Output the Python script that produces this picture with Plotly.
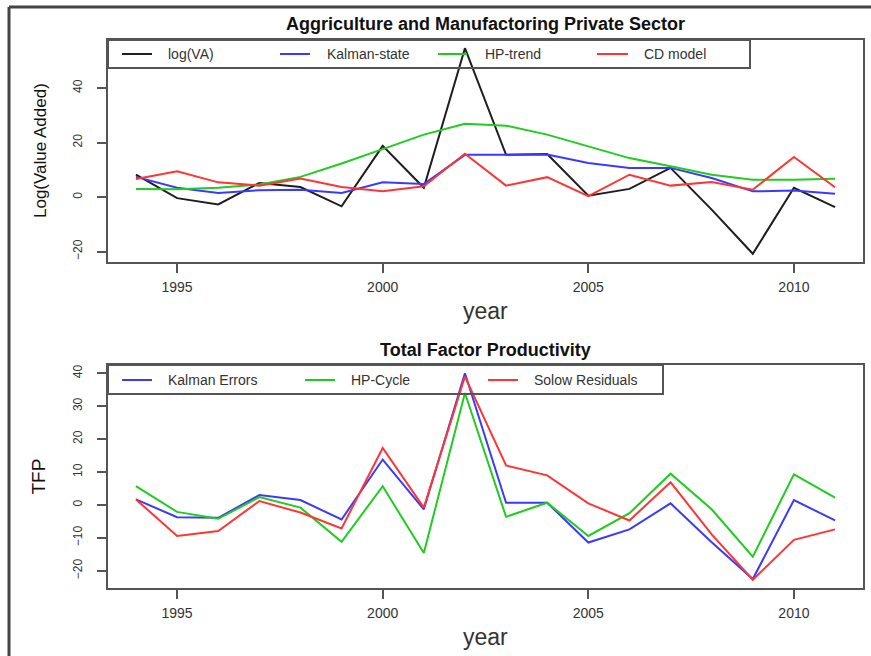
import plotly.graph_objects as go

# ---------------- data ----------------
years = list(range(1994, 2012))

log_va = [8.2, -0.4, -2.7, 5.2, 3.7, -3.4, 18.8, 3.4, 54.6, 15.5, 15.8, 0.5, 3.0, 10.7, -4.6, -20.8, 3.4, -3.7]
kalman_state = [7.4, 3.4, 1.5, 2.5, 2.7, 1.5, 5.4, 4.8, 15.5, 15.5, 15.6, 12.5, 10.7, 10.7, 7.0, 2.1, 2.4, 1.2]
hp_trend = [3.0, 2.9, 3.4, 4.6, 7.4, 12.3, 17.6, 22.9, 26.9, 26.2, 22.9, 18.6, 14.3, 11.3, 8.2, 6.4, 6.4, 6.7]
cd_model = [6.6, 9.5, 5.4, 4.2, 6.8, 3.7, 2.1, 4.0, 15.9, 4.2, 7.3, 0.3, 8.2, 4.2, 5.5, 2.7, 14.7, 3.6]

kalman_errors = [1.7, -3.7, -3.9, 3.0, 1.5, -4.4, 13.8, -1.3, 40.0, 0.7, 0.7, -11.4, -7.4, 0.5, -11.3, -22.5, 1.5, -4.7]
hp_cycle = [5.7, -2.1, -4.2, 2.4, -0.8, -11.2, 5.7, -14.6, 34.0, -3.6, 0.7, -9.4, -2.5, 9.5, -1.3, -15.7, 9.3, 2.2]
solow_residuals = [1.7, -9.4, -7.9, 1.2, -2.3, -7.1, 17.3, -0.8, 39.0, 12.0, 9.0, 0.5, -4.7, 6.9, -8.9, -22.7, -10.6, -7.4]

x_ticks = [1995, 2000, 2005, 2010]
top_y_ticks = [-20, 0, 20, 40]
bottom_y_ticks = [-20, -10, 0, 10, 20, 30, 40]

top_names = ["log(VA)", "Kalman-state", "HP-trend", "CD model"]
bottom_names = ["Kalman Errors", "HP-Cycle", "Solow Residuals"]
top_title = "Aggriculture and Manufactoring Private Sector"
bottom_title = "Total Factor Productivity"

# ---------------- style ----------------
W, H = 871, 656
BLACK = "#1e1e1e"
BLUE = "#3a3aff"
GREEN = "#1fcc1f"
RED = "#ff3535"
AXC = "#555555"
TXT = "#333333"
FONT = "Liberation Sans, Arial, sans-serif"


def px(x):
    return x / W


def py(y):
    return 1 - y / H


def rrange(vals, pad=0.04):
    lo, hi = min(vals), max(vals)
    d = (hi - lo) * pad
    return [lo - d, hi + d]


fig = go.Figure()

top_series = [log_va, kalman_state, hp_trend, cd_model]
top_colors = [BLACK, BLUE, GREEN, RED]
for name, vals, col in zip(top_names, top_series, top_colors):
    fig.add_trace(go.Scatter(x=years, y=vals, mode="lines", name=name,
                             line=dict(color=col, width=2), xaxis="x", yaxis="y",
                             showlegend=False, hoverinfo="skip"))

bottom_series = [kalman_errors, hp_cycle, solow_residuals]
bottom_colors = [BLUE, GREEN, RED]
for name, vals, col in zip(bottom_names, bottom_series, bottom_colors):
    fig.add_trace(go.Scatter(x=years, y=vals, mode="lines", name=name,
                             line=dict(color=col, width=2), xaxis="x2", yaxis="y2",
                             showlegend=False, hoverinfo="skip"))

xr = rrange(years)
axis_common = dict(showline=True, mirror=True, linecolor=AXC, linewidth=2,
                   ticks="outside", ticklen=9, tickwidth=1.5, tickcolor=AXC,
                   showgrid=False, zeroline=False,
                   tickfont=dict(family=FONT, color=TXT))

fig.update_layout(
    width=W, height=H,
    margin=dict(l=0, r=0, t=0, b=0),
    paper_bgcolor="white", plot_bgcolor="white",
    showlegend=False,
    xaxis=dict(domain=[px(108), px(863)], range=xr, tickvals=x_ticks,
               anchor="y", ticklabelstandoff=2, **axis_common),
    yaxis=dict(domain=[py(262), py(40)], range=rrange(log_va + kalman_state + hp_trend + cd_model),
               tickvals=top_y_ticks, tickangle=-90, anchor="x", ticklabelstandoff=10, **axis_common),
    xaxis2=dict(domain=[px(108), px(863)], range=xr, tickvals=x_ticks,
                anchor="y2", ticklabelstandoff=2, **axis_common),
    yaxis2=dict(domain=[py(588), py(365)], range=rrange(kalman_errors + hp_cycle + solow_residuals),
                tickvals=bottom_y_ticks, tickangle=-90, anchor="x2", ticklabelstandoff=10, **axis_common),
)
fig.update_xaxes(tickfont_size=14)
fig.update_yaxes(tickfont_size=12)

shapes = []
annotations = []

# outer frame (top and left edges)
shapes.append(dict(type="line", xref="paper", yref="paper", x0=px(9), x1=1, y0=py(7), y1=py(7),
                   line=dict(color="#444", width=3)))
shapes.append(dict(type="line", xref="paper", yref="paper", x0=px(9), x1=px(9), y0=py(7), y1=0,
                   line=dict(color="#444", width=3)))


def add_legend(box, yc, keys, names, colors):
    x0, y0, x1, y1 = box
    shapes.append(dict(type="rect", xref="paper", yref="paper",
                       x0=px(x0), x1=px(x1), y0=py(y1), y1=py(y0),
                       line=dict(color=AXC, width=2), fillcolor="rgba(0,0,0,0)"))
    for (ka, kb, tx), nm, col in zip(keys, names, colors):
        shapes.append(dict(type="line", xref="paper", yref="paper",
                           x0=px(ka), x1=px(kb), y0=py(yc), y1=py(yc),
                           line=dict(color=col, width=2)))
        annotations.append(dict(text=nm, xref="paper", yref="paper", x=px(tx), y=py(yc),
                                xanchor="left", yanchor="middle", showarrow=False,
                                font=dict(family=FONT, size=14, color=TXT)))


add_legend((108, 40, 750, 68), 54,
           [(122, 152, 166), (280, 310, 325), (438, 467, 483), (597, 628, 642)],
           top_names, top_colors)
add_legend((108, 365, 663, 394), 380,
           [(122, 152, 166), (305, 335, 349), (488, 518, 532)],
           bottom_names, bottom_colors)

# titles and axis labels
annotations += [
    dict(text="<b>%s</b>" % top_title, x=px(485.5), y=py(24), xref="paper", yref="paper",
         showarrow=False, xanchor="center", yanchor="middle",
         font=dict(family=FONT, size=18, color="#111")),
    dict(text="<b>%s</b>" % bottom_title, x=px(485.5), y=py(350), xref="paper", yref="paper",
         showarrow=False, xanchor="center", yanchor="middle",
         font=dict(family=FONT, size=18, color="#111")),
    dict(text="year", x=px(485.5), y=py(311), xref="paper", yref="paper",
         showarrow=False, xanchor="center", yanchor="middle",
         font=dict(family=FONT, size=23, color=TXT)),
    dict(text="year", x=px(485.5), y=py(637), xref="paper", yref="paper",
         showarrow=False, xanchor="center", yanchor="middle",
         font=dict(family=FONT, size=23, color=TXT)),
    dict(text="Log(Value Added)", x=px(40), y=py(151), xref="paper", yref="paper",
         showarrow=False, xanchor="center", yanchor="middle", textangle=-90,
         font=dict(family=FONT, size=17, color="#111")),
    dict(text="TFP", x=px(38), y=py(476.5), xref="paper", yref="paper",
         showarrow=False, xanchor="center", yanchor="middle", textangle=-90,
         font=dict(family=FONT, size=19, color="#111")),
]

fig.update_layout(shapes=shapes, annotations=annotations)
fig.write_html("out.html", config={"displayModeBar": False},
               post_script="document.body.style.margin='0';document.body.style.overflow='hidden';")
